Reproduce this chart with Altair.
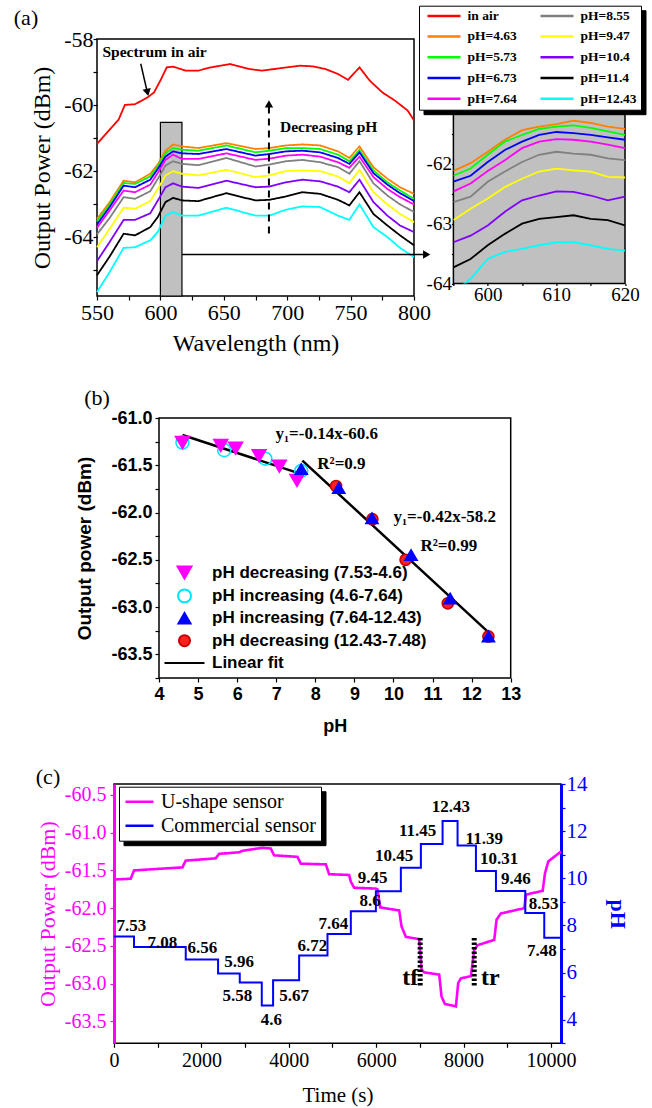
import altair as alt
import pandas as pd

SERIF = "Liberation Serif"
SANS = "Liberation Sans"
MINUS = "\u2212"
FMT1 = "replace(format(datum.value, '.1f'), '" + MINUS + "', '-')"

# ===================== panel (a) data =====================
air_wl = [550, 560, 567, 572, 580, 590, 595, 600, 605, 610, 620, 630, 640, 655, 670, 680,
          690, 700, 710, 720, 730, 740, 748, 757, 765, 775, 785, 795, 800]
air_power = [-61.18, -60.75, -60.45, -60.00, -59.98, -59.77, -59.62, -59.26, -58.86, -58.84,
             -58.96, -58.96, -58.86, -58.76, -58.91, -58.96, -58.91, -58.86, -58.81, -58.83,
             -58.91, -59.06, -59.24, -58.86, -59.26, -59.62, -59.87, -60.17, -60.47]

ph_wl = [550, 560, 571, 580, 592, 598, 604, 610, 617, 630, 652, 675, 686, 699, 712, 726,
         740, 749, 757, 768, 779, 789, 800]
pw_463 = [-63.46, -62.95, -62.30, -62.35, -62.09, -61.80, -61.39, -61.20, -61.26, -61.31, -61.16, -61.34,
          -61.31, -61.23, -61.20, -61.23, -61.41, -61.61, -61.26, -61.89, -62.24, -62.50, -62.70]
pw_573 = [-63.53, -63.02, -62.37, -62.40, -62.17, -61.86, -61.47, -61.31, -61.36, -61.39, -61.23, -61.44,
          -61.39, -61.31, -61.31, -61.34, -61.51, -61.71, -61.37, -61.99, -62.35, -62.60, -62.85]
pw_673 = [-63.63, -63.10, -62.45, -62.50, -62.27, -61.94, -61.57, -61.41, -61.47, -61.49, -61.34, -61.54,
          -61.49, -61.41, -61.39, -61.44, -61.61, -61.79, -61.44, -62.07, -62.42, -62.68, -62.92]
pw_764 = [-63.73, -63.20, -62.60, -62.65, -62.42, -62.06, -61.67, -61.51, -61.64, -61.64, -61.47, -61.67,
          -61.63, -61.54, -61.51, -61.57, -61.74, -61.91, -61.57, -62.19, -62.55, -62.80, -63.02]
pw_855 = [-63.93, -63.43, -62.80, -62.85, -62.62, -62.24, -61.84, -61.71, -61.79, -61.83, -61.61, -61.87,
          -61.81, -61.71, -61.67, -61.74, -61.89, -62.09, -61.71, -62.38, -62.75, -63.02, -63.25]
pw_947 = [-64.32, -63.76, -63.12, -63.15, -62.92, -62.55, -62.14, -62.01, -62.09, -62.14, -61.97, -62.19,
          -62.14, -62.01, -61.99, -62.01, -62.17, -62.38, -61.97, -62.65, -63.02, -63.31, -63.56]
pw_1040 = [-64.74, -64.16, -63.49, -63.49, -63.29, -62.90, -62.50, -62.38, -62.48, -62.52, -62.30, -62.50,
           -62.48, -62.35, -62.27, -62.32, -62.48, -62.65, -62.27, -62.95, -63.36, -63.66, -63.86]
pw_1140 = [-65.17, -64.60, -63.91, -63.96, -63.71, -63.40, -62.95, -62.82, -62.90, -62.92, -62.68, -62.90,
           -62.88, -62.78, -62.65, -62.70, -62.88, -63.05, -62.65, -63.31, -63.66, -63.96, -64.26]
pw_1243 = [-65.68, -65.07, -64.34, -64.32, -64.11, -63.85, -63.36, -63.25, -63.36, -63.36, -63.12, -63.36,
           -63.36, -63.18, -63.08, -63.10, -63.36, -63.49, -63.02, -63.71, -64.01, -64.34, -64.62]

inset_wl = [595, 597.5, 600, 602.5, 605, 607.5, 610, 612.5, 615, 617.5, 620]
iw_463 = [-62.12, -61.99, -61.80, -61.60, -61.44, -61.38, -61.34, -61.28, -61.32, -61.38, -61.42]
iw_573 = [-62.20, -62.08, -61.85, -61.63, -61.52, -61.42, -61.38, -61.36, -61.40, -61.46, -61.52]
iw_673 = [-62.30, -62.20, -61.97, -61.77, -61.63, -61.52, -61.47, -61.49, -61.52, -61.56, -61.60]
iw_764 = [-62.46, -62.33, -62.12, -61.94, -61.74, -61.63, -61.59, -61.60, -61.63, -61.68, -61.74]
iw_855 = [-62.64, -62.55, -62.30, -62.13, -61.97, -61.85, -61.80, -61.83, -61.85, -61.91, -61.94]
iw_947 = [-62.94, -62.75, -62.58, -62.39, -62.25, -62.13, -62.08, -62.11, -62.13, -62.22, -62.23]
iw_1040 = [-63.31, -63.20, -63.03, -62.80, -62.61, -62.53, -62.46, -62.47, -62.53, -62.61, -62.55]
iw_1140 = [-63.73, -63.59, -63.36, -63.17, -63.00, -62.92, -62.89, -62.86, -62.92, -62.94, -63.03]
iw_1243 = [-64.15, -63.92, -63.59, -63.47, -63.42, -63.36, -63.31, -63.31, -63.36, -63.42, -63.45]

series_names = ["in air", "pH=4.63", "pH=5.73", "pH=6.73", "pH=7.64",
                "pH=8.55", "pH=9.47", "pH=10.4", "pH=11.4", "pH=12.43"]
series_colors = ["#ff0000", "#ff8000", "#00ff00", "#0000ff", "#ff00ff",
                 "#808080", "#ffff00", "#8000ff", "#000000", "#00ffff"]

# ===================== panel (b) data =====================
dec1_ph = [4.6, 5.58, 5.96, 6.56, 7.08, 7.53]
dec1_p = [-61.26, -61.29, -61.32, -61.40, -61.51, -61.66]
inc1_ph = [4.6, 5.67, 6.72, 7.64]
inc1_p = [-61.26, -61.34, -61.43, -61.56]
inc2_ph = [7.64, 8.6, 9.45, 10.45, 11.45, 12.43]
inc2_p = [-61.54, -61.74, -62.06, -62.45, -62.91, -63.31]
dec2_ph = [12.43, 11.39, 10.31, 9.46, 8.53]
dec2_p = [-63.31, -62.96, -62.50, -62.07, -61.72]
fit1_ph = [4.6, 7.55]
fit1_p = [-61.18, -61.58]
fit2_ph = [7.67, 12.44]
fit2_p = [-61.45, -63.27]
b_names = ["pH decreasing (7.53-4.6)", "pH increasing (4.6-7.64)",
           "pH increasing (7.64-12.43)", "pH decreasing (12.43-7.48)", "Linear fit"]
b_shapes = ["triangle-down", "circle", "triangle-up", "circle", "M-4,0H4"]
b_fills = ["#ff00ff", "transparent", "#0000ff", "#ff2020", "transparent"]
b_strokes = ["#ff00ff", "#00e5ff", "#0000ff", "#c80000", "#000000"]
b_sizes = [190, 100, 190, 140, 200]
b_notes = ["y\u2081=-0.14x-60.6", "R\u00b2=0.9", "y\u2081=-0.42x-58.2", "R\u00b2=0.99"]

# ===================== panel (c) data =====================
mag_t = [0, 382, 458, 992, 1565, 1641, 2328, 2405, 2862, 2939, 3397, 3588, 3664, 4199, 4275,
         4848, 4924, 5382, 5420, 5496, 5993, 6031, 6092, 6527, 6580, 6679, 6985, 7038, 7099,
         7443, 7496, 7573, 7825, 7878, 7939, 8168, 8245, 8321, 8702, 8756, 8855, 9390, 9428,
         9810, 9863, 9939, 10230]
mag_p = [-61.62, -61.61, -61.50, -61.48, -61.46, -61.37, -61.34, -61.28, -61.26, -61.24, -61.20,
         -61.21, -61.30, -61.32, -61.41, -61.42, -61.55, -61.56, -61.65, -61.73, -61.74, -61.75,
         -61.99, -62.03, -62.24, -62.38, -62.41, -62.81, -62.85, -62.88, -63.17, -63.27, -63.30,
         -62.99, -62.93, -62.90, -62.55, -62.49, -62.42, -62.15, -62.07, -62.00, -61.82, -61.77,
         -61.54, -61.38, -61.25]
ph_t = [0, 458, 1642, 2382, 2878, 3382, 3641, 4237, 4886, 5420, 5993, 6565, 7023, 7520, 7863,
        8283, 8741, 9413, 9847, 10230]
ph_v = [7.53, 7.08, 6.56, 5.96, 5.58, 4.6, 5.67, 6.72, 7.64, 8.6, 9.45, 10.45, 11.45, 12.43,
        11.39, 10.31, 9.46, 8.53, 7.48, 7.48]
lab_text = ["7.53", "7.08", "6.56", "5.96", "5.58", "4.6", "5.67", "6.72", "7.64", "8.6",
            "9.45", "10.45", "11.45", "12.43", "11.39", "10.31", "9.46", "8.53", "7.48"]
lab_t = [398, 1108, 2024, 2862, 2825, 3600, 4122, 4542, 5023, 5863, 5917, 6412, 6948, 7710,
         8473, 8816, 9199, 9833, 9794]
lab_ph = [7.97, 7.26, 7.05, 6.44, 4.99, 4.0, 4.99, 7.12, 8.07, 9.03, 10.03, 10.95, 12.01, 13.01,
          11.66, 10.81, 9.99, 8.89, 6.91]
c_names = ["U-shape sensor", "Commercial sensor"]
c_colors = ["#ff00ff", "#0000ff"]


# ===================== helpers =====================
def common_axis(**kw):
    base = dict(labelColor="black", titleColor="black", tickColor="black", tickWidth=1.2,
                domain=False, grid=False, labelFlush=False, labelOverlap=False)
    base.update(kw)
    return alt.Axis(**base)


def spacer(w, h):
    return alt.Chart(pd.DataFrame({"v": [0]})).mark_point(opacity=0).encode(
        x=alt.value(0), y=alt.value(0)
    ).properties(width=w, height=h, view=alt.ViewBackground(stroke="transparent", strokeWidth=0))


def legend_pair(**kw):
    """Return a legend and an identical all-black copy, offset, used as a drop shadow."""
    main = alt.Legend(zindex=2, fillColor="white", strokeColor="black", labelColor="black", **kw)
    sh = dict(kw)
    sh["legendX"] = kw["legendX"] + 4.5
    sh["legendY"] = kw["legendY"] + 4.5
    shadow = alt.Legend(zindex=1, fillColor="black", strokeColor="black", labelColor="black",
                        labelOpacity=0, symbolStrokeColor="black", symbolFillColor="black", **sh)
    return main, shadow


# ===================== panel (a) main =====================
rows = [{"series": "in air", "wl": w, "p": p} for w, p in zip(air_wl, air_power)]
for name, vals in zip(series_names[1:], [pw_463, pw_573, pw_673, pw_764, pw_855,
                                          pw_947, pw_1040, pw_1140, pw_1243]):
    rows += [{"series": name, "wl": w, "p": p} for w, p in zip(ph_wl, vals)]
df_a = pd.DataFrame(rows)
df_a["series2"] = df_a["series"]

XA = alt.X("wl:Q", title="Wavelength (nm)",
           scale=alt.Scale(domain=[550, 800], nice=False, zero=False),
           axis=common_axis(values=list(range(550, 801, 25)),
                            labelExpr="datum.value % 50 == 0 ? '' + datum.value : ''",
                            labelFont=SERIF, labelFontSize=22, titleFont=SERIF, titleFontSize=24,
                            titleFontWeight="normal", tickSize=4, labelPadding=2, titlePadding=8))
YA = alt.Y("p:Q", title="Output Power (dBm)",
           scale=alt.Scale(domain=[-65.8, -58], nice=False, zero=False),
           axis=common_axis(values=list(range(-65, -57)),
                            labelExpr="datum.value % 2 == 0 ? '' + datum.value : ''",
                            labelFont=SERIF, labelFontSize=22, titleFont=SERIF, titleFontSize=24,
                            titleFontWeight="normal", tickSize=4, labelPadding=0, titlePadding=9))

legA, legA_sh = legend_pair(
    title=None, orient="none", legendX=322, legendY=-33.3, columns=2,
    symbolType="stroke", symbolSize=1089, symbolStrokeWidth=2.5,
    labelFont=SERIF, labelFontWeight="bold", labelFontSize=13.5,
    clipHeight=12, rowPadding=6.75, columnPadding=19, symbolOffset=3,
    labelOffset=5.5, padding=4)

a_box = alt.Chart(pd.DataFrame({"wl": [600], "wl2": [617], "p": [-60.53], "p2": [-65.8]})).mark_rect(
    fill="#c0c0c0", stroke="black", strokeWidth=1.2).encode(x=XA, x2="wl2:Q", y=YA, y2="p2:Q")
a_lines = alt.Chart(df_a).mark_line(strokeWidth=1.8).encode(
    x=XA, y=YA,
    color=alt.Color("series:N", scale=alt.Scale(domain=series_names, range=series_colors),
                    legend=legA),
    strokeDash=alt.StrokeDash("series2:N", sort=series_names,
                              scale=alt.Scale(range=[[1, 0]] * len(series_names)),
                              legend=legA_sh))
a_rules = alt.Chart(pd.DataFrame({"wl": [584.5, 617], "wl2": [589.3, 808],
                                  "p": [-58.75, -64.54], "p2": [-59.55, -64.54]})).mark_rule(
    color="black", strokeWidth=1.5).encode(x=XA, x2="wl2:Q", y=YA, y2="p2:Q")
a_dash = alt.Chart(pd.DataFrame({"wl": [685.6], "p": [-63.9], "p2": [-60.0]})).mark_rule(
    color="black", strokeWidth=2, strokeDash=[7, 5]).encode(x=XA, y=YA, y2="p2:Q")
a_heads = alt.Chart(pd.DataFrame({"wl": [589.8, 685.6, 810], "p": [-59.62, -59.97, -64.54],
                                  "shp": ["triangle-down", "triangle-up", "triangle-right"],
                                  "ang": [347, 0, 0]})).mark_point(
    filled=True, color="black", size=70, opacity=1).encode(
    x=XA, y=YA, shape=alt.Shape("shp:N", scale=None), angle=alt.Angle("ang:Q", scale=None))
a_text = alt.Chart(pd.DataFrame({"wl": [554.3, 694.3], "p": [-58.38, -60.68],
                                 "txt": ["Spectrum in air", "Decreasing pH"]})).mark_text(
    font=SERIF, fontWeight="bold", fontSize=15.5, align="left", baseline="middle",
    color="black").encode(x=XA, y=YA, text="txt:N")
a_tag = alt.Chart(pd.DataFrame({"v": [0]})).mark_text(
    text="(a)", font=SERIF, fontSize=22, color="black").encode(x=alt.value(-71), y=alt.value(-21))

chartA = alt.layer(a_box, a_lines, a_rules, a_dash, a_heads, a_text, a_tag).properties(
    width=317, height=257)

# ===================== panel (a) inset =====================
irows = []
for name, vals in zip(series_names[1:], [iw_463, iw_573, iw_673, iw_764, iw_855,
                                          iw_947, iw_1040, iw_1140, iw_1243]):
    irows += [{"series": name, "wl": w, "p": p} for w, p in zip(inset_wl, vals)]
df_i = pd.DataFrame(irows)

inset = alt.Chart(df_i).mark_line(clip=True, strokeWidth=1.8).encode(
    x=alt.X("wl:Q", title=None, scale=alt.Scale(domain=[595, 620], nice=False, zero=False),
            axis=common_axis(values=[595, 600, 605, 610, 615, 620],
                             labelExpr="datum.value % 10 == 0 ? '' + datum.value : ''",
                             labelFont=SERIF, labelFontSize=19, tickSize=2, labelPadding=0)),
    y=alt.Y("p:Q", title=None, scale=alt.Scale(domain=[-64, -61.17], nice=False, zero=False),
            axis=common_axis(values=[-64, -63.5, -63, -62.5, -62, -61.5],
                             labelExpr="datum.value % 1 == 0 ? '' + datum.value : ''",
                             labelFont=SERIF, labelFontSize=19, tickSize=2, labelPadding=0)),
    color=alt.Color("series:N", scale=alt.Scale(domain=series_names, range=series_colors),
                    legend=None),
).properties(width=171.6, height=169.6,
             view=alt.ViewBackground(fill="#c0c0c0", stroke="black", strokeWidth=1.5))

# ===================== panel (b) =====================
brows = []
for idx, xs, ys in [(1, inc1_ph, inc1_p), (0, dec1_ph, dec1_p), (3, dec2_ph, dec2_p), (2, inc2_ph, inc2_p)]:
    brows += [{"series": b_names[idx], "ph": x, "p": y} for x, y in zip(xs, ys)]
df_b = pd.DataFrame(brows)
df_fit = pd.DataFrame([{"seg": "1", "ph": x, "p": y} for x, y in zip(fit1_ph, fit1_p)] +
                      [{"seg": "2", "ph": x, "p": y} for x, y in zip(fit2_ph, fit2_p)])

XB = alt.X("ph:Q", title="pH", scale=alt.Scale(domain=[4, 13], nice=False, zero=False),
           axis=common_axis(values=list(range(4, 14)), format="d", labelFont=SANS,
                            labelFontWeight="bold", labelFontSize=18, titleFont=SANS,
                            titleFontWeight="bold", titleFontSize=18, tickSize=4,
                            labelPadding=3, titlePadding=14))
YB = alt.Y("p:Q", title="Output power (dBm)",
           scale=alt.Scale(domain=[-63.75, -61.0], nice=False, zero=False),
           axis=common_axis(values=[-63.75 + 0.25 * i for i in range(12)],
                            labelExpr="(datum.value * 2) % 1 == 0 ? " + FMT1 + " : ''",
                            labelFont=SANS, labelFontWeight="bold", labelFontSize=18,
                            titleFont=SANS, titleFontWeight="bold", titleFontSize=19,
                            tickSize=4, labelPadding=3, titlePadding=16))

legB = alt.Legend(title=None, orient="none", legendX=10, legendY=146, symbolStrokeWidth=2,
                  labelFont=SANS, labelFontWeight="bold", labelFontSize=17, labelColor="black",
                  labelLimit=400, rowPadding=2.4, symbolOffset=7, labelOffset=19, padding=0)
b_pts = alt.Chart(df_b).mark_point(strokeWidth=1.6, opacity=1).encode(
    x=XB, y=YB,
    shape=alt.Shape("series:N", scale=alt.Scale(domain=b_names, range=b_shapes), legend=legB),
    fill=alt.Fill("series:N", scale=alt.Scale(domain=b_names, range=b_fills), legend=legB),
    stroke=alt.Stroke("series:N", scale=alt.Scale(domain=b_names, range=b_strokes), legend=legB),
    size=alt.Size("series:N", scale=alt.Scale(domain=b_names, range=b_sizes), legend=legB),
)
b_fit = alt.Chart(df_fit).mark_line(color="black", strokeWidth=2.5).encode(x=XB, y=YB, detail="seg:N")
b_txt = alt.Chart(pd.DataFrame({"txt": b_notes, "ph": [6.98, 8.05, 10.0, 10.69],
                                "p": [-61.17, -61.49, -62.05, -62.35]})).mark_text(
    font=SERIF, fontWeight="bold", fontSize=17, align="left", baseline="middle", color="black"
).encode(x=XB, y=YB, text="txt:N")
b_tag = alt.Chart(pd.DataFrame({"v": [0]})).mark_text(
    text="(b)", font=SERIF, fontSize=22, color="black").encode(x=alt.value(-62), y=alt.value(-20))

chartB = alt.layer(b_fit, b_pts, b_txt, b_tag).properties(width=351.7, height=260)

# ===================== panel (c) =====================
df_mag = pd.DataFrame({"t": mag_t, "v": mag_p, "sensor": c_names[0], "sensor2": c_names[0]})
df_ph = pd.DataFrame({"t": ph_t, "ph": ph_v, "sensor": c_names[1], "sensor2": c_names[1]})
df_lab = pd.DataFrame({"t": lab_t, "ph": lab_ph, "txt": lab_text})

XC = alt.X("t:Q", title="Time (s)", scale=alt.Scale(domain=[0, 10230], nice=False, zero=False),
           axis=common_axis(values=list(range(0, 10001, 1000)),
                            labelExpr="datum.value % 2000 == 0 ? '' + datum.value : ''",
                            labelFont=SERIF, labelFontSize=20, titleFont=SERIF, titleFontSize=21,
                            titleFontWeight="normal", tickSize=4, labelPadding=3, titlePadding=14))
YCL = alt.Y("v:Q", title="Output Power (dBm)",
            scale=alt.Scale(domain=[-63.79, -60.355], nice=False, zero=False),
            axis=common_axis(orient="left", values=[-63.5, -63, -62.5, -62, -61.5, -61, -60.5],
                             labelExpr=FMT1, labelFont=SERIF, labelFontSize=20,
                             titleFont=SERIF, titleFontSize=22, titleFontWeight="normal",
                             labelColor="#ff00ff", titleColor="#ff00ff", tickColor="#ff00ff",
                             domain=True, domainColor="#ff00ff", domainWidth=3,
                             tickSize=4, labelPadding=4, titlePadding=5))
YCR = alt.Y("ph:Q", title="pH", scale=alt.Scale(domain=[3, 14], nice=False, zero=False),
            axis=common_axis(orient="right", values=list(range(3, 15)),
                             labelExpr="datum.value % 2 == 0 ? '' + datum.value : ''",
                             labelFont=SERIF, labelFontSize=21, titleFont=SERIF, titleFontSize=22,
                             titleFontWeight="bold", labelColor="#0000ff", titleColor="#0000ff",
                             tickColor="#0000ff", domain=True, domainColor="#0000ff",
                             domainWidth=3, tickSize=4, labelPadding=1, titlePadding=18))

legC, legC_sh = legend_pair(
    title=None, orient="none", legendX=5, legendY=2.7, symbolType="stroke",
    symbolSize=784, symbolStrokeWidth=2.5, labelFont=SERIF, labelFontSize=20,
    labelLimit=400, clipHeight=20, rowPadding=4, labelOffset=6, padding=5)
colC = alt.Color("sensor:N", scale=alt.Scale(domain=c_names, range=c_colors), legend=legC)
dashC = alt.StrokeDash("sensor2:N", sort=c_names, scale=alt.Scale(range=[[1, 0], [1, 0]]),
                       legend=legC_sh)

c_mag = alt.Chart(df_mag).mark_line(strokeWidth=2.6).encode(x=XC, y=YCL, color=colC,
                                                            strokeDash=dashC)
c_tag = alt.Chart(pd.DataFrame({"v": [0]})).mark_text(
    text="(c)", font=SERIF, fontSize=22, color="black").encode(x=alt.value(-66), y=alt.value(-7))
c_ph = alt.Chart(df_ph).mark_line(strokeWidth=2, interpolate="step-after").encode(
    x=XC, y=YCR, color=colC, strokeDash=dashC)
c_lab = alt.Chart(df_lab).mark_text(font=SERIF, fontWeight="bold", fontSize=17,
                                    color="black").encode(x=XC, y=YCR, text="txt:N")
c_dots = alt.Chart(pd.DataFrame({"t": [7007, 8244], "ph": [5.45, 5.45], "ph2": [7.54, 7.54]})).mark_rule(
    color="black", strokeWidth=5, strokeDash=[2.5, 2]).encode(x=XC, y=YCR, y2="ph2:Q")
c_tt = alt.Chart(pd.DataFrame({"t": [6778, 8610], "ph": [5.77, 5.77], "txt": ["tf", "tr"]})).mark_text(
    font=SERIF, fontWeight="bold", fontSize=24, color="black").encode(x=XC, y=YCR, text="txt:N")

chartC = alt.layer(
    alt.layer(c_mag, c_tag),
    alt.layer(c_ph, c_dots, c_lab, c_tt),
).resolve_scale(y="independent").properties(width=447, height=259.3)

# ===================== layout =====================
indep = dict(color="independent", shape="independent", fill="independent",
             stroke="independent", size="independent", strokeDash="independent")

rowA = alt.hconcat(chartA, alt.vconcat(spacer(171.6, 74.4), inset, spacing=0, bounds="flush"),
                   spacing=39.4, bounds="flush")
rowB = alt.hconcat(spacer(62, 1), chartB, spacing=0, bounds="flush").resolve_scale(**indep)
rowC = alt.hconcat(spacer(17, 1), chartC, spacing=0, bounds="flush").resolve_scale(**indep)
rowsBC = alt.vconcat(rowB, rowC, spacing=29).resolve_scale(**indep)

chart = alt.vconcat(rowA, rowsBC, spacing=30).resolve_scale(**indep).properties(
    padding={"left": 13, "top": 5, "right": 5, "bottom": 5}
).configure(background="white").configure_view(stroke="black", strokeWidth=1.5)

chart.save("out.html", embed_options={"renderer": "svg", "actions": False})
